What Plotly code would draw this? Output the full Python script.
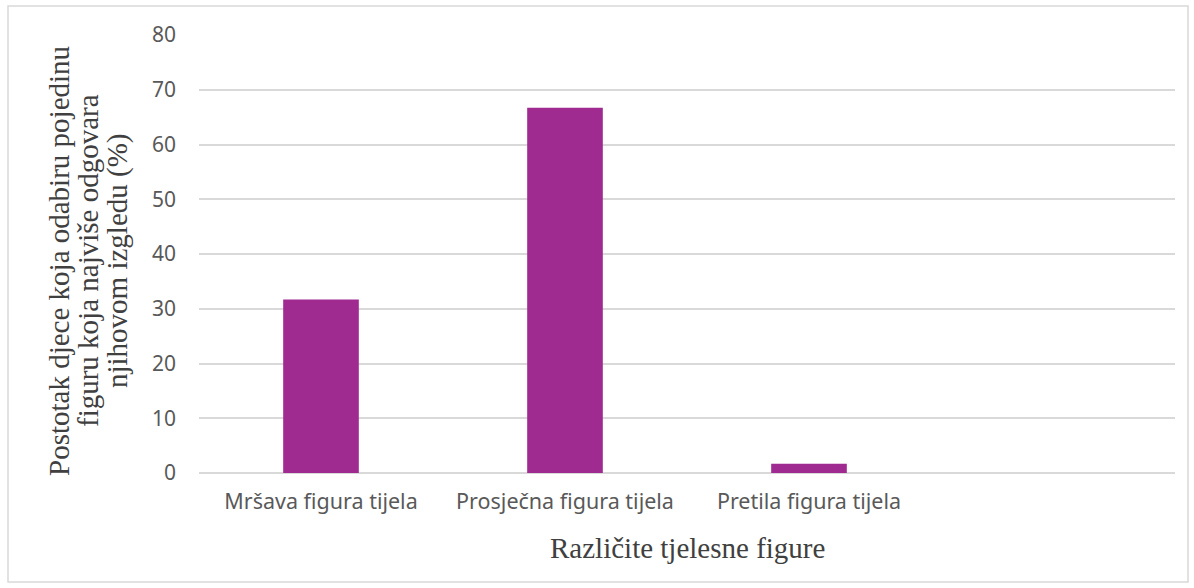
import plotly.graph_objects as go

categories = ["Mršava figura tijela", "Prosječna figura tijela", "Pretila figura tijela", " "]
values = [31.7, 66.7, 1.7, None]
y_ticks = [0, 10, 20, 30, 40, 50, 60, 70, 80]
y_title_lines = ["Postotak djece koja odabiru pojedinu",
                 "figuru koja najviše odgovara",
                 "njihovom izgledu (%)"]
x_title = "Različite tjelesne figure"

fig = go.Figure()
fig.add_trace(go.Bar(x=categories, y=values, marker=dict(color="#A02B90", line=dict(width=0))))

W, H = 1194, 588
L, R, T, B = 199, 19, 35, 115
pw, ph = W - L - R, H - T - B

def px_x(x):
    return (x - L) / pw

def px_y(y):
    return (H - B - y) / ph

serif = dict(family="Liberation Serif", size=29, color="#404040")
line_x = [59, 88, 117]

annotations = [
    dict(text=t, xref="paper", yref="paper", x=px_x(xc), y=px_y(261),
         xanchor="center", yanchor="middle", textangle=-90, showarrow=False, font=serif)
    for t, xc in zip(y_title_lines, line_x)
]
annotations.append(dict(text=x_title, xref="paper", yref="paper", x=px_x(687), y=px_y(548),
                        xanchor="center", yanchor="middle", showarrow=False, font=serif))

fig.update_layout(
    width=W, height=H,
    margin=dict(l=L, r=R, t=T, b=B),
    paper_bgcolor="white", plot_bgcolor="white",
    bargap=0.69,
    showlegend=False,
    xaxis=dict(
        type="category",
        categoryorder="array", categoryarray=categories,
        range=[-0.5, 3.5],
        showgrid=False, showline=False, ticks="",
        tickfont=dict(family="Noto Sans", size=21.5, color="#595959"),
        ticklabelstandoff=13,
    ),
    yaxis=dict(
        range=[0, 80], tickvals=y_ticks,
        showgrid=True, gridcolor="#d9d9d9", gridwidth=1.5,
        zeroline=True, zerolinecolor="#d9d9d9", zerolinewidth=1.5,
        showline=False, ticks="",
        tickfont=dict(family="Noto Sans", size=21, color="#595959"),
        ticklabelstandoff=22,
    ),
    shapes=[dict(type="rect", xref="paper", yref="paper",
                 x0=px_x(8), x1=px_x(1188), y0=px_y(582), y1=px_y(6),
                 line=dict(color="#d9d9d9", width=1.5), fillcolor="rgba(0,0,0,0)", layer="below")],
    annotations=annotations,
)

fig.write_html("out.html", config={"displayModeBar": False},
               post_script="document.body.style.margin='0';document.body.style.overflow='hidden';")
